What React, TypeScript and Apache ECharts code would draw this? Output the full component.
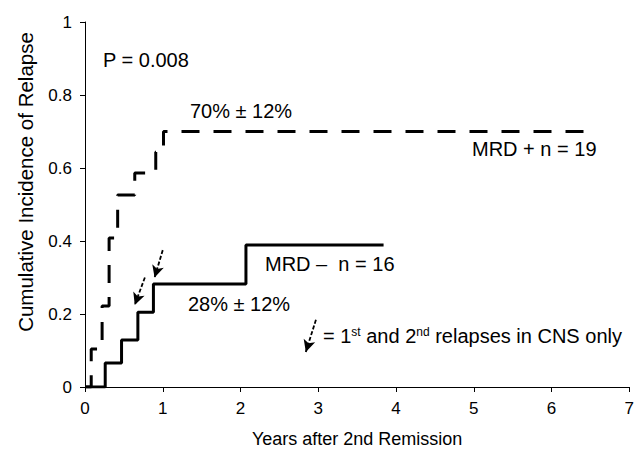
import React, { useEffect, useRef } from "react";
import * as echarts from "echarts";

// Years after 2nd remission (step change points) and cumulative incidence
const mrdPosYears = [0, 0.08, 0.22, 0.31, 0.42, 0.64, 0.91, 1.01, 6.45];
const mrdPosIncidence = [0, 0.104, 0.222, 0.408, 0.526, 0.586, 0.644, 0.7, 0.7];
const mrdNegYears = [0, 0.26, 0.47, 0.68, 0.88, 2.07, 3.84];
const mrdNegIncidence = [0, 0.066, 0.129, 0.205, 0.282, 0.389, 0.389];

// CNS-only relapse arrows: [start, tip] in data coordinates
const cnsArrows = [
  [[0.77, 0.3], [0.64, 0.225]],
  [[1.0, 0.375], [0.895, 0.3]],
];
const legendArrow = [[2.97, 0.184], [2.84, 0.096]];

const xMin = 0;
const xMax = 7;
const yMin = 0;
const yMax = 1;

const FONT = "'Liberation Sans', Arial, sans-serif";

export default function App() {
  const ref = useRef<HTMLDivElement>(null);
  useEffect(() => {
    document.body.style.margin = "0";
    if (!ref.current) return;
    const chart = echarts.init(ref.current, undefined, { renderer: "svg" });
    const txt = (text: string, left: number, top: number, extra: any = {}) => ({
      type: "text",
      left,
      top,
      style: {
        text,
        fill: "#000",
        font: `20px ${FONT}`,
        ...extra,
      },
    });
    const arrowData = [...cnsArrows, legendArrow].map((a) => [
      { coord: a[0] },
      { coord: a[1] },
    ]);
    chart.setOption({
      animation: false,
      backgroundColor: "#fff",
      grid: { left: 85, right: 5, top: 22, bottom: 74, containLabel: false },
      xAxis: {
        type: "value",
        min: xMin,
        max: xMax,
        interval: 1,
        name: "Years after 2nd Remission",
        nameLocation: "middle",
        nameGap: 43,
        nameTextStyle: { color: "#000", fontSize: 18, fontFamily: FONT },
        axisLine: { lineStyle: { color: "#000", width: 1 } },
        axisTick: { show: true, length: 5, lineStyle: { color: "#000" } },
        axisLabel: { color: "#000", fontSize: 17, fontFamily: FONT, margin: 13 },
        splitLine: { show: false },
      },
      yAxis: {
        type: "value",
        min: yMin,
        max: yMax,
        interval: 0.2,
        axisLine: { show: true, lineStyle: { color: "#000", width: 1 } },
        axisTick: { show: true, length: 5, lineStyle: { color: "#000" } },
        axisLabel: { color: "#000", fontSize: 17, fontFamily: FONT, margin: 13 },
        splitLine: { show: false },
      },
      series: [
        {
          type: "line",
          name: "MRD +",
          step: "end",
          symbol: "none",
          data: mrdPosYears.map((x, i) => [x, mrdPosIncidence[i]]),
          lineStyle: { color: "#000", width: 3, type: [18, 14], cap: "butt" },
          z: 3,
        },
        {
          type: "line",
          name: "MRD -",
          step: "end",
          symbol: "none",
          data: mrdNegYears.map((x, i) => [x, mrdNegIncidence[i]]),
          lineStyle: { color: "#000", width: 3, type: "solid" },
          z: 4,
          markLine: {
            silent: true,
            symbol: ["none", "arrow"],
            symbolSize: [9, 12],
            label: { show: false },
            lineStyle: { color: "#000", width: 1.8, type: [4, 2] },
            data: arrowData,
          },
        },
      ],
      graphic: [
        {
          type: "text",
          x: 25,
          y: 182,
          rotation: Math.PI / 2,
          style: {
            text: "Cumulative Incidence of Relapse",
            fill: "#000",
            font: `20.5px ${FONT}`,
            align: "center",
            verticalAlign: "middle",
          },
        },
        txt("P = 0.008", 103, 50),
        txt("70% ± 12%", 190, 101),
        txt("MRD + n = 19", 472, 139),
        txt("MRD \u2013\u00a0\u00a0n = 16", 265, 254),
        txt("28% ± 12%", 188, 294),
        {
          type: "text",
          left: 323,
          top: 326,
          style: {
            text: "= 1{sup|st} and 2{sup|nd} relapses in CNS only",
            fill: "#000",
            font: `20px ${FONT}`,
            rich: {
              sup: {
                fontSize: 12,
                fontFamily: FONT,
                fill: "#000",
                verticalAlign: "top",
                padding: [0, 0, 8, 0],
              },
            },
          },
        },
      ],
    });
    return () => chart.dispose();
  }, []);
  return <div ref={ref} style={{ width: 637, height: 461 }} />;
}
